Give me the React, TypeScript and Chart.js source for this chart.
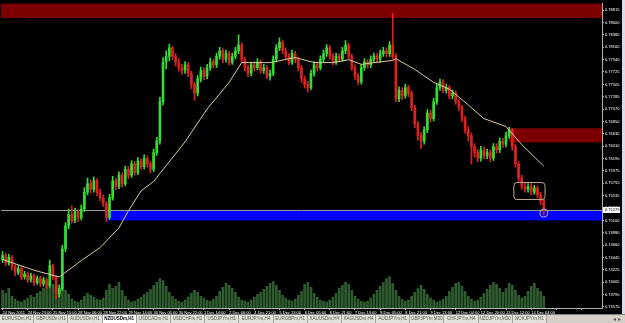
import React, { useEffect, useRef } from "react";
import { Chart, registerables } from "chart.js";
Chart.register(...registerables);

// ---- data (2-hour candles, NZDUSD) ----
const opens = [.7440,.7448,.7435,.7445,.7428,.7418,.7425,.7410,.7415,.7405,.7412,.7400,.7408,.7398,.7405,.7395,.7430,.7410,.7380,.7390,
.7460,.7500,.7520,.7510,.7525,.7515,.7530,.7560,.7575,.7565,.7580,.7560,.7550,.7540,.7515,.7550,.7580,.7570,.7590,.7575,
.7600,.7590,.7610,.7595,.7615,.7605,.7620,.7610,.7600,.7630,.7650,.7720,.7790,.7800,.7815,.7800,.7790,.7780,.7775,.7785,
.7770,.7750,.7735,.7760,.7775,.7765,.7780,.7790,.7785,.7800,.7810,.7795,.7805,.7790,.7800,.7810,.7820,.7795,.7780,.7770,
.7785,.7780,.7790,.7775,.7780,.7765,.7770,.7795,.7815,.7825,.7810,.7800,.7790,.7805,.7795,.7780,.7760,.7750,.7745,.7770,
.7785,.7780,.7795,.7805,.7815,.7800,.7790,.7800,.7795,.7810,.7820,.7800,.7780,.7765,.7755,.7780,.7790,.7785,.7795,.7800,
.7795,.7805,.7810,.7805,.7820,.7800,.7725,.7740,.7730,.7745,.7735,.7710,.7680,.7660,.7650,.7670,.7700,.7690,.7720,.7745,
.7755,.7740,.7745,.7730,.7735,.7720,.7710,.7690,.7670,.7660,.7640,.7630,.7620,.7635,.7625,.7630,.7620,.7640,.7635,.7650,
.7645,.7660,.7670,.7640,.7610,.7585,.7570,.7565,.7570,.7560,.7567,.7555,.7545];
const highs = [.7455,.7452,.7450,.7448,.7432,.7430,.7428,.7420,.7419,.7417,.7415,.7412,.7411,.7410,.7408,.7440,.7433,.7413,.7396,.7466,
.7506,.7530,.7536,.7532,.7529,.7537,.7568,.7585,.7582,.7587,.7584,.7566,.7555,.7544,.7556,.7588,.7585,.7596,.7594,.7606,
.7605,.7616,.7614,.7621,.7619,.7626,.7624,.7614,.7636,.7657,.7728,.7798,.7810,.7822,.7818,.7805,.7796,.7786,.7791,.7789,
.7774,.7754,.7766,.7781,.7780,.7786,.7797,.7795,.7806,.7816,.7814,.7811,.7809,.7806,.7816,.7838,.7824,.7799,.7785,.7790,
.7791,.7796,.7794,.7786,.7784,.7776,.7801,.7821,.7833,.7829,.7815,.7805,.7811,.7809,.7799,.7784,.7765,.7756,.7776,.7791,
.7790,.7801,.7811,.7821,.7819,.7805,.7806,.7805,.7816,.7828,.7824,.7804,.7785,.7770,.7786,.7796,.7795,.7801,.7806,.7805,
.7811,.7816,.7815,.7826,.7876,.7805,.7746,.7745,.7751,.7749,.7739,.7714,.7685,.7666,.7676,.7706,.7705,.7726,.7751,.7760,
.7759,.7751,.7749,.7741,.7739,.7725,.7714,.7695,.7676,.7665,.7646,.7636,.7641,.7640,.7636,.7635,.7646,.7646,.7656,.7655,
.7666,.7675,.7673,.7645,.7614,.7590,.7576,.7575,.7575,.7572,.7571,.7560,.7548];
const lows = [.7436,.7430,.7431,.7422,.7412,.7414,.7405,.7406,.7400,.7401,.7395,.7397,.7393,.7394,.7390,.7392,.7405,.7372,.7375,.7386,
.7455,.7495,.7505,.7506,.7508,.7511,.7526,.7555,.7558,.7560,.7554,.7545,.7535,.7508,.7512,.7546,.7564,.7566,.7569,.7571,
.7584,.7586,.7590,.7591,.7600,.7601,.7604,.7594,.7596,.7625,.7645,.7714,.7778,.7792,.7794,.7783,.7774,.7768,.7770,.7764,
.7743,.7722,.7730,.7755,.7759,.7760,.7775,.7779,.7780,.7795,.7789,.7790,.7785,.7786,.7796,.7805,.7789,.7774,.7764,.7766,
.7774,.7776,.7770,.7770,.7760,.7758,.7766,.7790,.7810,.7805,.7794,.7785,.7786,.7789,.7774,.7754,.7744,.7737,.7741,.7765,
.7774,.7776,.7790,.7800,.7795,.7785,.7786,.7790,.7791,.7805,.7795,.7775,.7759,.7750,.7751,.7775,.7779,.7780,.7790,.7789,
.7790,.7800,.7799,.7800,.7795,.7720,.7720,.7724,.7726,.7729,.7704,.7674,.7652,.7637,.7645,.7665,.7684,.7686,.7715,.7740,
.7735,.7735,.7725,.7725,.7715,.7704,.7684,.7664,.7650,.7610,.7622,.7614,.7615,.7619,.7619,.7614,.7616,.7629,.7630,.7639,
.7640,.7655,.7634,.7604,.7579,.7565,.7560,.7560,.7555,.7556,.7550,.7538,.7520];
const closes = [.7448,.7435,.7445,.7428,.7418,.7425,.7410,.7415,.7405,.7412,.7400,.7408,.7398,.7405,.7395,.7430,.7410,.7380,.7390,.7460,
.7500,.7520,.7510,.7525,.7515,.7530,.7560,.7575,.7565,.7580,.7560,.7550,.7540,.7515,.7550,.7580,.7570,.7590,.7575,.7600,
.7590,.7610,.7595,.7615,.7605,.7620,.7610,.7600,.7630,.7650,.7720,.7790,.7800,.7815,.7800,.7790,.7780,.7775,.7785,.7770,
.7750,.7735,.7760,.7775,.7765,.7780,.7790,.7785,.7800,.7810,.7795,.7805,.7790,.7800,.7810,.7820,.7795,.7780,.7770,.7785,
.7780,.7790,.7775,.7780,.7765,.7770,.7795,.7815,.7825,.7810,.7800,.7790,.7805,.7795,.7780,.7760,.7750,.7745,.7770,.7785,
.7780,.7795,.7805,.7815,.7800,.7790,.7800,.7795,.7810,.7820,.7800,.7780,.7765,.7755,.7780,.7790,.7785,.7795,.7800,.7795,
.7805,.7810,.7805,.7820,.7800,.7725,.7740,.7730,.7745,.7735,.7710,.7680,.7660,.7650,.7670,.7700,.7690,.7720,.7745,.7755,
.7740,.7745,.7730,.7735,.7720,.7710,.7690,.7670,.7660,.7640,.7630,.7620,.7635,.7625,.7630,.7620,.7640,.7635,.7650,.7645,
.7660,.7670,.7640,.7610,.7585,.7570,.7565,.7570,.7560,.7567,.7555,.7545,.7528];
const volumes = [180,150,200,120,90,70,60,80,100,130,110,150,
170,200,220,260,240,230,200,220,180,140,90,70,
60,80,120,150,130,110,90,80,100,180,240,200,
220,260,180,120,80,60,70,90,110,140,160,190,
230,260,300,280,220,160,120,90,70,60,80,110,
150,180,160,120,100,80,70,90,120,170,210,250,
230,200,160,110,80,70,60,80,110,140,160,190,
220,250,270,230,180,130,100,80,70,90,130,170,
240,260,210,150,110,80,70,60,80,110,150,200,
230,260,240,180,120,90,70,60,70,100,140,180,
220,260,300,320,250,180,120,90,70,80,120,160,
200,230,190,140,100,80,60,70,90,120,170,210,
250,260,220,170,120,90,70,80,110,150,190,230,
260,240,200,160,200,250,230,180,130,100,120,170,
220,250,200,170,120];
const maIndex = [0,10,18,25,31,37,40,44,48,58,65,72,76,85,93,99,105,110,114,124,125,131,137,142,147,153,160,165,172];
const maValues = [.7441,.7422,.7410,.7439,.7462,.7497,.7527,.7562,.7579,.7649,.7707,.7754,.7789,.7789,.7798,.7789,.7789,.7794,.7786,.7793,.7796,.7777,.7754,.7742,.7719,.7690,.7676,.7644,.7606];
const dateLabels = ["24 Nov 2011","24 Nov 23:00","25 Nov 15:00","28 Nov 06:00","28 Nov 22:00","29 Nov 14:00","30 Nov 06:00","30 Nov 22:00",
"1 Dec 14:00","2 Dec 06:00","4 Dec 21:00","5 Dec 13:00","6 Dec 05:00","6 Dec 21:00","7 Dec 13:00","8 Dec 05:00","8 Dec 21:00",
"9 Dec 13:00","12 Dec 04:00","12 Dec 20:00","13 Dec 12:00","14 Dec 04:00"];
const priceTicks = [0.78815,0.78600,0.78380,0.78160,0.77940,0.77725,0.77505,0.77285,0.77070,0.76850,0.76630,0.76410,0.76190,
0.75975,0.75755,0.75535,0.75320,0.75100,0.74880,0.74660,0.74445,0.74225,0.74005,0.73790,0.73570];
const bidPrice = 0.75279;
const zoneFrom = [0, 161, 33];
const zoneTop = [0.7894, 0.7673, 0.7527];
const zoneBottom = [0.7868, 0.7648, 0.7510];
const boxFrom = 162.5, boxTo = 172.4, boxTop = 0.7577, boxBottom = 0.7547;
const circleIndex = 172, circlePrice = 0.7523;
const tabs = ["EURUSDm,H1","GBPUSDm,H1","AUDUSDm,H1","NZDUSDm,H1","USDCADm,H1","USDCHFm,H1","USDJPYm,H1","EURJPYm,H4",
"EURGBPm,H1","XAUUSDm,H4","XAGUSDm,H4","AUDJPYm,H1","GBPJPYm,M30","CHFJPYm,H4","NZDJPYm,M30","NOKJPYm,H1"];
const activeTab = "NZDUSDm,H1";
const totalSlots = 191;

const UP = "#33dd33";
const DOWN = "#dd2020";
const ZONE_COLORS = ["#7d0000", "#7d0000", "#0000ff"];

export default function App() {
  const ref = useRef<HTMLCanvasElement>(null);
  useEffect(() => {
    document.body.style.margin = "0";
    const labels = Array.from({ length: totalSlots }, (_, i) =>
      i % 8 === 0 && dateLabels[i / 8] ? dateLabels[i / 8] : ""
    );
    const colors = closes.map((c, i) => (c >= opens[i] ? UP : DOWN));
    const maData = labels.map((_, i) => {
      const k = maIndex.indexOf(i);
      return k >= 0 ? maValues[k] : null;
    });

    const overlay = {
      id: "overlay",
      beforeDatasetsDraw(chart: any) {
        const { ctx, chartArea: a, scales } = chart;
        const x = scales.x, y = scales.y;
        ctx.save();
        ctx.beginPath();
        ctx.rect(a.left, a.top, a.width, a.height);
        ctx.clip();
        zoneFrom.forEach((f, k) => {
          const x0 = f === 0 ? a.left : x.getPixelForValue(f);
          const y0 = y.getPixelForValue(zoneTop[k]);
          const y1 = y.getPixelForValue(zoneBottom[k]);
          ctx.fillStyle = ZONE_COLORS[k];
          ctx.fillRect(x0, y0, a.right - x0, y1 - y0);
        });
        const yb = Math.round(y.getPixelForValue(bidPrice)) + 0.5;
        ctx.strokeStyle = "#9a9a9a";
        ctx.lineWidth = 1;
        ctx.beginPath();
        ctx.moveTo(a.left, yb);
        ctx.lineTo(a.right, yb);
        ctx.stroke();
        ctx.restore();
      },
      afterDatasetsDraw(chart: any) {
        const { ctx, scales } = chart;
        const x = scales.x, y = scales.y;
        ctx.save();
        const x0 = x.getPixelForValue(boxFrom), x1 = x.getPixelForValue(boxTo);
        const y0 = y.getPixelForValue(boxTop), y1 = y.getPixelForValue(boxBottom);
        ctx.strokeStyle = "#b8a888";
        ctx.lineWidth = 1;
        ctx.beginPath();
        (ctx as any).roundRect(x0, y0, x1 - x0, y1 - y0, 3);
        ctx.stroke();
        ctx.strokeStyle = "#b0a8e8";
        ctx.beginPath();
        ctx.arc(x.getPixelForValue(circleIndex), y.getPixelForValue(circlePrice), 4, 0, Math.PI * 2);
        ctx.stroke();
        ctx.restore();
      },
      afterDraw(chart: any) {
        const { ctx, chartArea: a, scales } = chart;
        const yb = Math.round(scales.y.getPixelForValue(bidPrice));
        ctx.save();
        ctx.fillStyle = "#ffffff";
        ctx.fillRect(a.right + 1, yb - 3, 17, 6);
        ctx.fillStyle = "#000000";
        ctx.font = "4px 'Liberation Sans'";
        ctx.textBaseline = "middle";
        ctx.fillText(bidPrice.toFixed(5), a.right + 3, yb);
        ctx.restore();
      },
    };

    const chart = new Chart(ref.current!, {
      type: "bar",
      data: {
        labels,
        datasets: [
          {
            type: "line",
            data: maData as any,
            borderColor: "#d8c9a3",
            borderWidth: 1,
            pointRadius: 0,
            spanGaps: true,
            tension: 0,
            yAxisID: "y",
            order: 1,
          } as any,
          {
            data: opens.map((o, i) => [o, closes[i]]) as any,
            backgroundColor: colors,
            barThickness: 2,
            minBarLength: 1,
            grouped: false,
            yAxisID: "y",
            order: 2,
          },
          {
            data: lows.map((l, i) => [l, highs[i]]) as any,
            backgroundColor: colors,
            barThickness: 1,
            grouped: false,
            yAxisID: "y",
            order: 3,
          },
          {
            data: volumes,
            backgroundColor: "#2f5c2f",
            barThickness: 2,
            grouped: false,
            yAxisID: "yv",
            order: 10,
          },
        ],
      },
      options: {
        animation: false,
        responsive: false,
        devicePixelRatio: 1,
        events: [],
        layout: { padding: { left: 1, top: 0, right: 0, bottom: 0 } },
        plugins: { legend: { display: false }, tooltip: { enabled: false } },
        scales: {
          x: {
            type: "category",
            offset: true,
            grid: {
              display: true,
              offset: false,
              drawOnChartArea: false,
              drawTicks: true,
              tickLength: 2,
              color: (c: any) => (c.index % 8 === 0 ? "#b0b0b0" : "rgba(0,0,0,0)"),
            },
            border: { display: true, color: "#b0b0b0" },
            ticks: {
              autoSkip: false,
              maxRotation: 0,
              minRotation: 0,
              align: "start",
              padding: 0,
              color: "#ffffff",
              font: { size: 4, family: "Liberation Sans" },
            },
            afterFit: (s: any) => { s.height = 6; },
          },
          y: {
            type: "linear",
            position: "right",
            min: 0.73552,
            max: 0.78937,
            afterBuildTicks: (s: any) => { s.ticks = priceTicks.map((v) => ({ value: v })); },
            grid: { drawOnChartArea: false, tickLength: 2, color: "#b0b0b0" },
            border: { display: true, color: "#b0b0b0" },
            ticks: {
              autoSkip: false,
              color: "#ffffff",
              padding: 1,
              font: { size: 4, family: "Liberation Sans" },
              callback: (v: any) => Number(v).toFixed(5),
            },
            afterFit: (s: any) => { s.width = 20; },
          },
          yv: { display: false, min: 0, max: 3100 },
        },
      } as any,
      plugins: [overlay],
    });
    return () => chart.destroy();
  }, []);

  return (
    <div style={{ width: 625, height: 323, background: "#000", overflow: "hidden", fontFamily: "'Liberation Sans', sans-serif" }}>
      <div style={{ display: "flex", height: 314 }}>
        <canvas ref={ref} width={622} height={314} style={{ display: "block", width: 622, height: 314 }} />
        <div style={{ width: 3, height: 314, background: "#d6dde6" }} />
      </div>
      <div style={{ display: "flex", height: 9, background: "#d4d0c8", borderTop: "1px solid #808080", boxSizing: "border-box" }}>
        {tabs.map((t) => (
          <div
            key={t}
            style={{
              width: 34.2,
              flex: "0 0 34.2px",
              boxSizing: "border-box",
              borderRight: "1px solid #a0a0a0",
              background: t === activeTab ? "#ffffff" : "#e4e2dc",
              color: t === activeTab ? "#000" : "#555",
              fontWeight: t === activeTab ? "bold" : "normal",
              fontSize: 4.5,
              lineHeight: "8px",
              textAlign: "center",
              whiteSpace: "nowrap",
              overflow: "hidden",
            }}
          >
            {t}
          </div>
        ))}
        <div style={{ flex: 1 }} />
        <div style={{ fontSize: 6, lineHeight: "8px", color: "#555", paddingRight: 4 }}>{"\u25C2 \u25B8"}</div>
      </div>
    </div>
  );
}
